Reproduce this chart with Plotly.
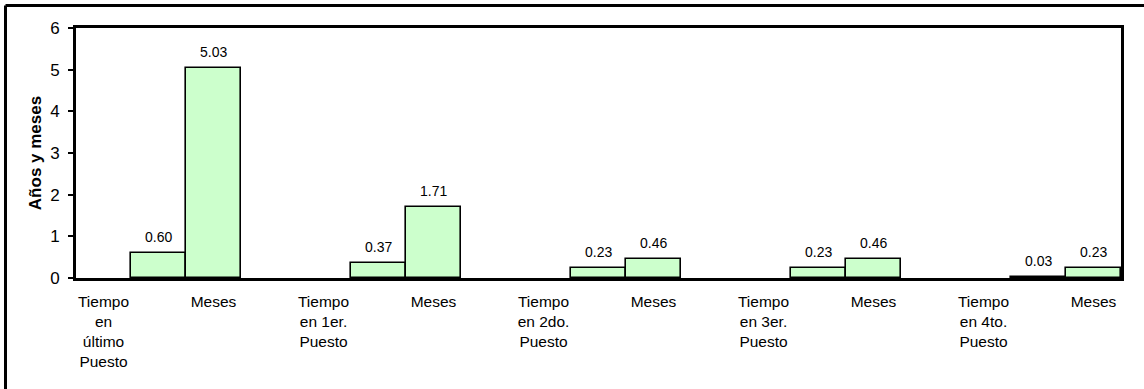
import plotly.graph_objects as go

categories = [
    "Tiempo<br>en<br>último<br>Puesto", "Meses",
    "Tiempo<br>en 1er.<br>Puesto", "Meses",
    "Tiempo<br>en 2do.<br>Puesto", "Meses",
    "Tiempo<br>en 3er.<br>Puesto", "Meses",
    "Tiempo<br>en 4to.<br>Puesto", "Meses",
]
values = [0.60, 5.03, 0.37, 1.71, 0.23, 0.46, 0.23, 0.46, 0.03, 0.23]
y_ticks = [0, 1, 2, 3, 4, 5, 6]

positions = list(range(len(categories)))
# "Tiempo" bars sit half a slot to the right of their label, "Meses" bars are centred
offsets = [0.25 if i % 2 == 0 else -0.25 for i in positions]
widths = [0.5] * len(categories)

FONT = "Liberation Sans, Arial, sans-serif"
W, H = 1144, 389
L, R, T, B = 76, 23, 28, 111

fig = go.Figure(
    go.Bar(
        x=positions,
        y=values,
        offset=offsets,
        width=widths,
        marker=dict(color="#CCFFCC", line=dict(color="black", width=1.6)),
        cliponaxis=False,
        hoverinfo="skip",
    )
)

# value labels above each bar
for p, o, w, v in zip(positions, offsets, widths, values):
    fig.add_annotation(
        x=p + o + w / 2, y=v, xref="x", yref="y",
        text=f"{v:.2f}", showarrow=False,
        yanchor="middle", xanchor="center", yshift=16,
        font=dict(family=FONT, size=14, color="black"),
    )

pw, ph = W - L - R, H - T - B


def px_x(p):
    return (p - L) / pw


def px_y(p):
    return (H - B - p) / ph


fig.update_layout(
    width=W,
    height=H,
    margin=dict(l=L, r=R, t=T, b=B, pad=0),
    paper_bgcolor="white",
    plot_bgcolor="white",
    showlegend=False,
    font=dict(family=FONT, size=15, color="black"),
    bargap=0,
    xaxis=dict(
        range=[-0.25, 9.25],
        tickmode="array",
        tickvals=positions,
        ticktext=categories,
        ticks="",
        showgrid=False,
        zeroline=False,
        showline=True,
        linecolor="black",
        linewidth=3,
        mirror=True,
        tickfont=dict(family=FONT, size=15.5, color="black"),
        ticklabelstandoff=7,
        fixedrange=True,
    ),
    yaxis=dict(
        range=[0, 6],
        tickmode="array",
        tickvals=y_ticks,
        ticktext=[str(t) for t in y_ticks],
        ticks="outside",
        ticklen=5,
        tickwidth=1.5,
        tickcolor="black",
        showgrid=False,
        zeroline=False,
        showline=True,
        linecolor="black",
        linewidth=3,
        mirror=True,
        tickfont=dict(family=FONT, size=17, color="black"),
        ticklabelstandoff=5,
        title=dict(
            text="<b>Años y meses</b>",
            font=dict(family=FONT, size=17, color="black"),
            standoff=5,
        ),
        fixedrange=True,
    ),
    shapes=[
        dict(type="line", xref="paper", yref="paper",
             x0=px_x(5.5), x1=px_x(W + 5), y0=px_y(5.5), y1=px_y(5.5),
             line=dict(color="black", width=3)),
        dict(type="line", xref="paper", yref="paper",
             x0=px_x(5.5), x1=px_x(5.5), y0=px_y(5.5), y1=px_y(H + 5),
             line=dict(color="black", width=3)),
    ],
)

fig.write_html("out.html")
